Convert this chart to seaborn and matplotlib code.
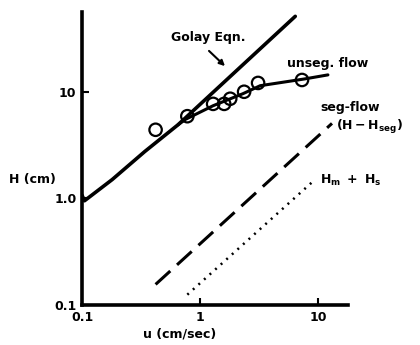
import matplotlib
matplotlib.use("Agg")
import matplotlib.pyplot as plt
import seaborn as sns
import pandas as pd

# ---- data ----
golay_u = [0.10, 0.105, 0.18, 0.34, 0.65, 2.0, 6.4]
golay_H = [1.07, 0.95, 1.5, 2.75, 4.9, 15.5, 51.0]

unseg_u = [0.65, 0.75, 1.29, 2.31, 3.23, 7.7, 12.1]
unseg_H = [4.9, 5.5, 7.4, 9.6, 11.4, 13.2, 14.4]

pts_u = [0.42, 0.78, 1.29, 1.60, 1.80, 2.36, 3.10, 7.3]
pts_H = [4.4, 5.9, 7.7, 7.7, 8.6, 10.0, 12.1, 12.9]

seg_u = [0.42, 13.1]
seg_H = [0.156, 5.05]

hmhs_u = [0.78, 9.4]
hmhs_H = [0.125, 1.5]

xticks = [0.1, 1, 10]
xticklabels = ["0.1", "1", "10"]
yticks = [0.1, 1, 10]
yticklabels = ["0.1", "1.0", "10"]

# ---- styling ----
sns.set_style("ticks")
plt.rcParams["font.family"] = ["DejaVu Sans"]
plt.rcParams["font.weight"] = "bold"
plt.rcParams["mathtext.fontset"] = "custom"
plt.rcParams["mathtext.rm"] = "DejaVu Sans:bold"
plt.rcParams["mathtext.bf"] = "DejaVu Sans:bold"
plt.rcParams["mathtext.it"] = "DejaVu Sans:bold"
for key in ["text.color", "axes.labelcolor", "xtick.color", "ytick.color",
            "axes.edgecolor"]:
    plt.rcParams[key] = "black"

W, H = 420, 345
fig = plt.figure(figsize=(W / 100, H / 100), dpi=100)
ax = fig.add_axes([82 / W, 1 - 305 / H, (348 - 82) / W, (305 - 12) / H])

def fp(x, y):
    return (x / W, 1 - y / H)

df_g = pd.DataFrame({"u": golay_u, "H": golay_H})
df_un = pd.DataFrame({"u": unseg_u, "H": unseg_H})
df_p = pd.DataFrame({"u": pts_u, "H": pts_H})
df_s = pd.DataFrame({"u": seg_u, "H": seg_H})
df_m = pd.DataFrame({"u": hmhs_u, "H": hmhs_H})

sns.lineplot(data=df_g, x="u", y="H", ax=ax, color="black", lw=2.6,
             sort=False, estimator=None, solid_capstyle="round",
             solid_joinstyle="round")
sns.lineplot(data=df_un, x="u", y="H", ax=ax, color="black", lw=2.2,
             sort=False, estimator=None, solid_capstyle="round",
             solid_joinstyle="round")
sns.scatterplot(data=df_p, x="u", y="H", ax=ax, s=80, facecolor="none",
                edgecolor="black", linewidth=1.6, zorder=5)
sns.lineplot(data=df_s, x="u", y="H", ax=ax, color="black", lw=2.2,
             sort=False, estimator=None, linestyle=(0, (6.5, 3.0)))
sns.lineplot(data=df_m, x="u", y="H", ax=ax, color="black", lw=1.8,
             sort=False, estimator=None, linestyle=(0, (0.8, 2.2)))

ax.set_xscale("log")
ax.set_yscale("log")
ax.set_xlim(0.1, 17.9)
ax.set_ylim(0.1, 56)
ax.set_xticks(xticks)
ax.set_xticklabels(xticklabels)
ax.set_yticks(yticks)
ax.set_yticklabels(yticklabels)
ax.minorticks_off()
ax.tick_params(axis="both", direction="in", length=5, width=1.5,
               labelsize=9, pad=4, colors="black")
for lab in ax.get_xticklabels() + ax.get_yticklabels():
    lab.set_fontweight("bold")
ax.set_xlabel("")
ax.set_ylabel("")
sns.despine(ax=ax)
ax.spines["left"].set_linewidth(2.6)
ax.spines["bottom"].set_linewidth(2.6)
ax.spines["left"].set_color("black")
ax.spines["bottom"].set_color("black")

# ---- text annotations ----
fs = 9
fig.text(*fp(171, 38), "Golay Eqn.", fontsize=fs, fontweight="bold",
         va="center", ha="left", color="black")
ax.annotate("", xy=fp(227, 68), xytext=fp(207, 49),
            xycoords="figure fraction", textcoords="figure fraction",
            arrowprops=dict(arrowstyle="-|>", color="black", lw=1.5,
                            mutation_scale=8))
fig.text(*fp(287, 64), "unseg. flow", fontsize=fs, fontweight="bold",
         va="center", ha="left", color="black")
fig.text(*fp(320, 107), "seg-flow", fontsize=fs, fontweight="bold",
         va="center", ha="left", color="black")
fig.text(*fp(336, 127), r"$(H - H_{seg})$", fontsize=fs,
         va="center", ha="left", color="black")
fig.text(*fp(320, 180), r"$H_m\ +\ H_s$", fontsize=fs,
         va="center", ha="left", color="black")
fig.text(*fp(9, 179), "H (cm)", fontsize=fs, fontweight="bold",
         va="center", ha="left", color="black")
fig.text(*fp(143, 334), "u (cm/sec)", fontsize=fs, fontweight="bold",
         va="center", ha="left", color="black")

fig.savefig("out.png", dpi=100)
